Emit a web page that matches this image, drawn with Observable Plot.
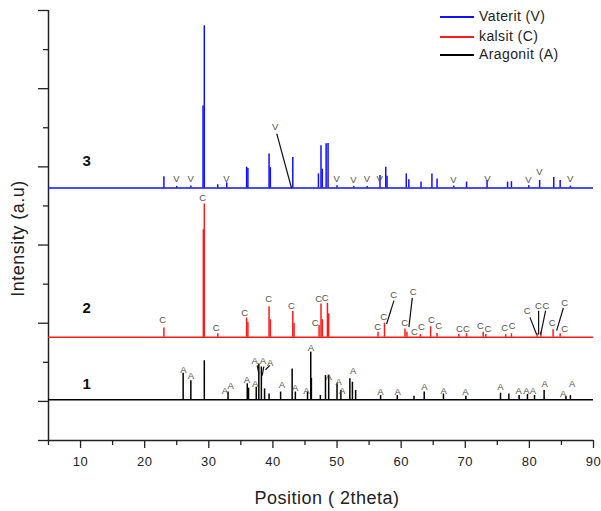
<!DOCTYPE html>
<html><head><meta charset="utf-8">
<script src="https://cdn.jsdelivr.net/npm/d3@7"></script>
<script src="https://cdn.jsdelivr.net/npm/@observablehq/plot@0.6"></script>
<style>
body{margin:0;background:#fff;font-family:"Liberation Sans",Arial,sans-serif;}
#wrap{position:relative;width:601px;height:511px;}
#legend{position:absolute;left:0;top:0;width:601px;height:70px;pointer-events:none;}
.li{position:absolute;left:440px;height:20px;line-height:20px;font-size:14px;letter-spacing:0.4px;color:#222;white-space:nowrap;}
.li span.sw{display:inline-block;width:34px;height:2px;vertical-align:middle;margin-right:5px;}
</style></head>
<body><div id="wrap"><div id="legend"></div></div>
<script>
// ---- data (2theta positions and relative intensities) ----
const seriesNames = ["Vaterit (V)", "kalsit (C)", "Aragonit (A)"];
const seriesColors = ["#1010ff", "#ff1a1a", "#000000"];
const sampleNames = ["3", "2", "1"];
const offsets = [5.46, 1.64, 0.04];        // baseline of each pattern (a.u.)
const sampleLabelY = [6.14, 2.38, 0.43];
const sampleLabelX = 11.0;

// sample 3 (blue)
const blueX = [23.0,25.0,27.2,29.3,29.1,31.4,32.8,35.9,36.1,39.4,39.6,43.1,47.1,47.5,47.7,48.3,48.6,50.0,52.6,54.7,56.7,57.6,57.8,60.8,61.2,63.1,64.8,65.6,68.2,70.2,73.4,76.6,77.2,79.9,81.6,83.8,84.8,86.4];
const blueH = [0.29,0.04,0.05,4.15,2.10,0.08,0.13,0.53,0.50,0.87,0.52,0.78,0.36,1.08,0.48,1.13,1.14,0.06,0.04,0.04,0.32,0.53,0.30,0.36,0.21,0.15,0.36,0.23,0.05,0.15,0.19,0.15,0.16,0.06,0.19,0.27,0.19,0.05];
// sample 2 (red)
const redX = [23.0,29.3,29.15,31.4,35.9,36.1,39.4,39.6,43.1,43.3,47.2,47.5,47.7,48.5,48.7,56.4,57.4,60.6,60.9,63.0,64.6,65.6,69.0,70.2,72.8,73.2,76.3,77.2,81.2,81.8,83.7,84.8];
const redH = [0.24,3.41,2.75,0.09,0.49,0.38,0.78,0.45,0.66,0.35,0.30,0.85,0.45,0.87,0.60,0.13,0.36,0.21,0.13,0.07,0.27,0.10,0.07,0.09,0.13,0.07,0.07,0.09,0.10,0.13,0.19,0.09];
// sample 1 (black)
const blackX = [26.0,27.2,29.3,33.0,36.0,36.2,37.4,37.8,38.2,38.7,39.4,41.2,43.0,43.5,45.4,45.9,46.0,47.4,48.2,48.7,50.0,50.6,52.0,52.4,52.9,56.8,59.4,62.0,63.6,66.6,70.1,75.5,76.8,78.4,79.7,80.8,82.3,85.7,86.4];
const blackH = [0.68,0.49,1.00,0.20,0.41,0.30,0.32,0.92,0.84,0.28,0.15,0.20,0.79,0.20,0.20,1.22,0.55,0.11,0.62,0.62,0.41,0.24,0.54,0.45,0.24,0.11,0.11,0.09,0.20,0.15,0.09,0.17,0.15,0.11,0.14,0.11,0.24,0.09,0.11];

// phase labels (x = 2theta, y = a.u.)
const vX = [25.0,27.2,32.8,40.4,50.0,52.6,54.7,56.7,68.2,73.5,79.9,81.6,86.4];
const vY = [5.69,5.69,5.69,7.01,5.69,5.66,5.69,5.69,5.66,5.69,5.66,5.86,5.69];
const vLeadX1 = [40.6], vLeadY1 = [6.85], vLeadX2 = [42.9], vLeadY2 = [5.46];

const cX = [22.83,29.07,31.21,35.62,39.37,42.91,46.65,47.17,48.21,56.37,57.31,58.87,60.59,61.9,62.1,63.19,64.75,65.89,69.12,70.21,72.39,73.59,76.18,77.34,79.68,81.44,82.64,83.58,85.55,85.55];
const cY = [2.09,5.21,1.88,2.27,2.62,2.45,2.0,2.62,2.65,1.90,2.15,2.73,2.0,2.79,1.77,1.90,2.09,1.93,1.85,1.86,1.94,1.86,1.87,1.93,2.31,2.45,2.45,2.0,2.51,1.86];
const cLeadX1 = [58.87,61.74,80.09,81.44,82.53,85.3];
const cLeadY1 = [2.58,2.65,2.15,2.32,2.32,2.39];
const cLeadX2 = [57.73,61.21,81.13,81.44,81.75,84.25];
const cLeadY2 = [1.98,1.90,1.71,1.71,1.71,1.81];

const aX = [26.1,27.26,32.55,33.45,35.99,37.18,37.29,38.49,39.63,41.46,43.53,45.25,45.98,48.73,50.29,50.85,52.54,56.79,59.49,63.66,66.67,70.05,75.51,78.37,79.57,80.61,82.43,85.3,86.7];
const aY = [0.81,0.64,0.26,0.40,0.55,1.03,0.45,1.03,0.99,0.41,0.35,0.28,1.37,0.62,0.50,0.26,0.79,0.24,0.25,0.36,0.28,0.24,0.36,0.26,0.28,0.26,0.45,0.19,0.45];
const aLeadX1 = [37.55,38.58,39.52], aLeadY1 = [0.92,0.89,0.92];
const aLeadX2 = [37.8,38.33,38.85], aLeadY2 = [0.71,0.66,0.81];

const xMajor = [10,20,30,40,50,60,70,80,90];
const xMinor = [5,15,25,35,45,55,65,75,85];
const yMajor = [-1,0,2,4,6,8,10];
const yMinor = [1,3,5,7,9];

// ---- build tables ----
const peakSets = [[blueX, blueH], [redX, redH], [blackX, blackH]];
const peaks = peakSets.flatMap(([xs, hs], s) => xs.map((x, i) => ({x, y1: offsets[s], y2: offsets[s] + hs[i], s})));
const baselines = offsets.map((o, s) => ({y: o, s}));
const mk = (xs, ys, t) => xs.map((x, i) => ({x, y: ys[i], t}));
const labels = [...mk(vX, vY, "V"), ...mk(cX, cY, "C"), ...mk(aX, aY, "A")];
const lk = (x1, y1, x2, y2) => x1.map((_, i) => ({x1: x1[i], y1: y1[i], x2: x2[i], y2: y2[i]}));
const leaders = [...lk(vLeadX1, vLeadY1, vLeadX2, vLeadY2), ...lk(cLeadX1, cLeadY1, cLeadX2, cLeadY2), ...lk(aLeadX1, aLeadY1, aLeadX2, aLeadY2)];
const samples = sampleNames.map((n, i) => ({x: sampleLabelX, y: sampleLabelY[i], n}));

const chart = Plot.plot({
  width: 601, height: 511,
  marginLeft: 48, marginRight: 8, marginTop: 10, marginBottom: 71,
  style: {fontFamily: "Liberation Sans, Arial, sans-serif", background: "#fff", color: "#222"},
  x: {domain: [5, 90]},
  y: {domain: [-1, 10]},
  marks: [
    Plot.ruleY([-1], {stroke: "#222", strokeWidth: 1.5}),
    Plot.ruleX([5], {stroke: "#222", strokeWidth: 1.5}),
    Plot.axisX({ticks: xMajor, tickSize: 8, tickPadding: 8, fontSize: 13, label: null, stroke: "#222", strokeWidth: 1.3}),
    Plot.axisX({ticks: xMinor, tickSize: 5, tickFormat: () => "", label: null, stroke: "#222", strokeWidth: 1.3}),
    Plot.axisY({ticks: yMajor, tickSize: 10, tickFormat: () => "", label: null, stroke: "#222", strokeWidth: 1.3}),
    Plot.axisY({ticks: yMinor, tickSize: 5, tickFormat: () => "", label: null, stroke: "#222", strokeWidth: 1.3}),
    Plot.text(["Position ( 2theta)"], {frameAnchor: "bottom", dx: 6, dy: 58, lineAnchor: "middle", textAnchor: "middle", fontSize: 18, fill: "#222"}),
    Plot.text(["Intensity (a.u)"], {frameAnchor: "left", dx: -30, dy: 13, rotate: -90, textAnchor: "middle", lineAnchor: "middle", fontSize: 18, fill: "#222"}),
    Plot.ruleY(baselines, {y: "y", stroke: d => seriesColors[d.s], strokeWidth: 1.5}),
    Plot.ruleX(peaks, {x: "x", y1: "y1", y2: "y2", stroke: d => seriesColors[d.s], strokeWidth: 1.5}),
    Plot.link(leaders, {x1: "x1", y1: "y1", x2: "x2", y2: "y2", stroke: "#111", strokeWidth: 1.2}),
    Plot.text(labels, {x: "x", y: "y", text: "t", fontSize: 9.5, fill: "#5a5148"}),
    Plot.text(samples, {x: "x", y: "y", text: "n", fontSize: 15, fontWeight: "bold", fill: "#111"})
  ]
});
chart.style.letterSpacing = "0.5px";
document.getElementById("wrap").prepend(chart);

// legend
const legendTops = [6, 26, 44];
const lg = document.getElementById("legend");
seriesNames.forEach((n, i) => {
  const d = document.createElement("div");
  d.className = "li";
  d.style.top = legendTops[i] + "px";
  const sw = document.createElement("span");
  sw.className = "sw";
  sw.style.background = seriesColors[i];
  d.appendChild(sw);
  d.appendChild(document.createTextNode(n));
  lg.appendChild(d);
});
</script></body></html>
